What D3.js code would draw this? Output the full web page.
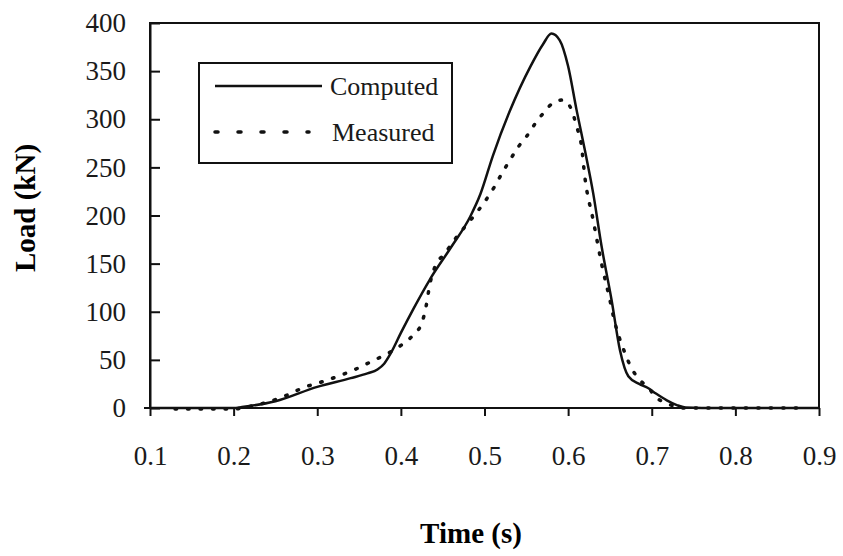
<!DOCTYPE html>
<html>
<head>
<meta charset="utf-8">
<script src="https://cdn.jsdelivr.net/npm/d3@7"></script>
<style>
    body { margin: 0; background: #fff; }
    svg { display: block; font-family: "Liberation Serif", "Times New Roman", serif; }
    .tick text { fill: #1a1a1a; }
</style>
</head>
<body>
<svg id="load-chart"></svg>
<script>
// values
const xTicks = [0.1, 0.2, 0.3, 0.4, 0.5, 0.6, 0.7, 0.8, 0.9];
const yTicks = [0, 50, 100, 150, 200, 250, 300, 350, 400];

const computedTime = [0.10, 0.20, 0.21, 0.25, 0.30, 0.34, 0.36, 0.372, 0.38, 0.388, 0.40, 0.415, 0.435, 0.46,
    0.483, 0.495, 0.51, 0.53, 0.555, 0.57, 0.58, 0.59, 0.60, 0.61, 0.62, 0.63, 0.64, 0.652, 0.662, 0.672,
    0.685, 0.695, 0.705, 0.718, 0.73, 0.74, 0.76, 0.90];
const computedLoad = [0, 0, 1, 7, 22, 31, 36, 40, 46, 57, 78, 103, 134, 167,
    199, 222, 262, 308, 355, 378, 389, 382, 355, 310, 268, 223, 168, 112, 60, 33,
    25, 21, 15, 8, 3, 0.5, 0, 0];

const measuredTime = [0.13, 0.20, 0.215, 0.24, 0.263, 0.283, 0.305, 0.325, 0.345, 0.364, 0.383, 0.40, 0.417,
    0.425, 0.43, 0.435, 0.44, 0.453, 0.467, 0.485, 0.50, 0.512, 0.521, 0.53, 0.541, 0.551, 0.561, 0.571,
    0.582, 0.594, 0.604, 0.61, 0.616, 0.62, 0.63, 0.64, 0.65, 0.655, 0.668, 0.676, 0.686, 0.698, 0.704,
    0.718, 0.726, 0.74, 0.88];
const measuredLoad = [-1, -1, 1, 6, 13, 21, 27, 33, 40, 48, 56, 65, 78,
    88, 105, 130, 145, 161, 178, 197, 214, 230, 244, 257, 272, 283, 296, 307,
    317, 320, 310, 293, 272, 240, 195, 150, 112, 92, 57, 41, 29, 19, 12,
    5, 2, 0, 0];

const seriesNames = ['Computed', 'Measured'];

function loadChart() {
    const width = 843;
    const height = 556;
    const margin = { top: 23, right: 24, bottom: 148, left: 150 };
    const innerWidth = width - margin.left - margin.right;
    const innerHeight = height - margin.top - margin.bottom;
    const serif = '"Liberation Serif", "Times New Roman", serif';

    const svg = d3.select('#load-chart')
        .attr('width', width)
        .attr('height', height);

    const g = svg.append('g')
        .attr('transform', `translate(${margin.left}, ${margin.top})`);

    const xScale = d3.scaleLinear().domain([0.1, 0.9]).range([0, innerWidth]);
    const yScale = d3.scaleLinear().domain([0, 400]).range([innerHeight, 0]);

    //x axis, ticks hang below
    const xAxisG = g.append('g')
        .attr('transform', `translate(0, ${innerHeight})`)
        .call(d3.axisBottom(xScale)
            .tickValues(xTicks)
            .tickFormat(d3.format('.1f'))
            .tickSizeInner(8)
            .tickSizeOuter(0)
            .tickPadding(30));
    xAxisG.attr('font-family', serif).attr('font-size', 27);
    xAxisG.selectAll('line, path').attr('stroke', '#111').attr('stroke-width', 2);
    xAxisG.select('.domain').attr('d', `M-6,0H${innerWidth}`);

    //y axis, ticks point into the plot
    const yAxisG = g.append('g')
        .call(d3.axisLeft(yScale)
            .tickValues(yTicks)
            .tickSizeInner(-10)
            .tickSizeOuter(0)
            .tickPadding(24));
    yAxisG.attr('font-family', serif).attr('font-size', 27);
    yAxisG.selectAll('line, path').attr('stroke', '#111').attr('stroke-width', 2);

    //frame
    g.append('rect')
        .attr('width', innerWidth)
        .attr('height', innerHeight)
        .attr('fill', 'none')
        .attr('stroke', '#111')
        .attr('stroke-width', 2);

    const line = d3.line()
        .x(d => xScale(d[0]))
        .y(d => yScale(d[1]))
        .curve(d3.curveMonotoneX);

    const measured = measuredTime.map((t, i) => [t, measuredLoad[i]]);
    const computed = computedTime.map((t, i) => [t, computedLoad[i]]);

    g.append('path').datum(measured)
        .attr('fill', 'none')
        .attr('stroke', '#111')
        .attr('stroke-width', 3.5)
        .attr('stroke-linecap', 'round')
        .attr('stroke-dasharray', '1.5 11')
        .attr('d', line);

    g.append('path').datum(computed)
        .attr('fill', 'none')
        .attr('stroke', '#111')
        .attr('stroke-width', 2.5)
        .attr('d', line);

    //legend
    const legend = svg.append('g').attr('transform', 'translate(199, 63)');
    legend.append('rect')
        .attr('width', 253)
        .attr('height', 100)
        .attr('fill', '#fff')
        .attr('stroke', '#111')
        .attr('stroke-width', 2);
    seriesNames.forEach((name, i) => {
        const y = 23 + i * 46;
        legend.append('line')
            .attr('x1', 16).attr('x2', i === 0 ? 123 : 110)
            .attr('y1', y).attr('y2', y)
            .attr('stroke', '#111')
            .attr('stroke-width', i === 0 ? 2.5 : 3.5)
            .attr('stroke-linecap', i === 0 ? 'butt' : 'round')
            .attr('stroke-dasharray', i === 0 ? null : '3 20');
        legend.append('text')
            .attr('x', 131 + i * 2)
            .attr('y', y + 9)
            .attr('font-size', 26)
            .attr('fill', '#1a1a1a')
            .text(name);
    });

    //axis titles
    svg.append('text')
        .attr('x', 471)
        .attr('y', 543)
        .attr('text-anchor', 'middle')
        .attr('font-size', 29)
        .attr('font-weight', 'bold')
        .text('Time (s)');

    svg.append('text')
        .attr('transform', 'translate(35, 208) rotate(-90)')
        .attr('text-anchor', 'middle')
        .attr('font-size', 29)
        .attr('font-weight', 'bold')
        .text('Load (kN)');
}

loadChart();
</script>
</body>
</html>
